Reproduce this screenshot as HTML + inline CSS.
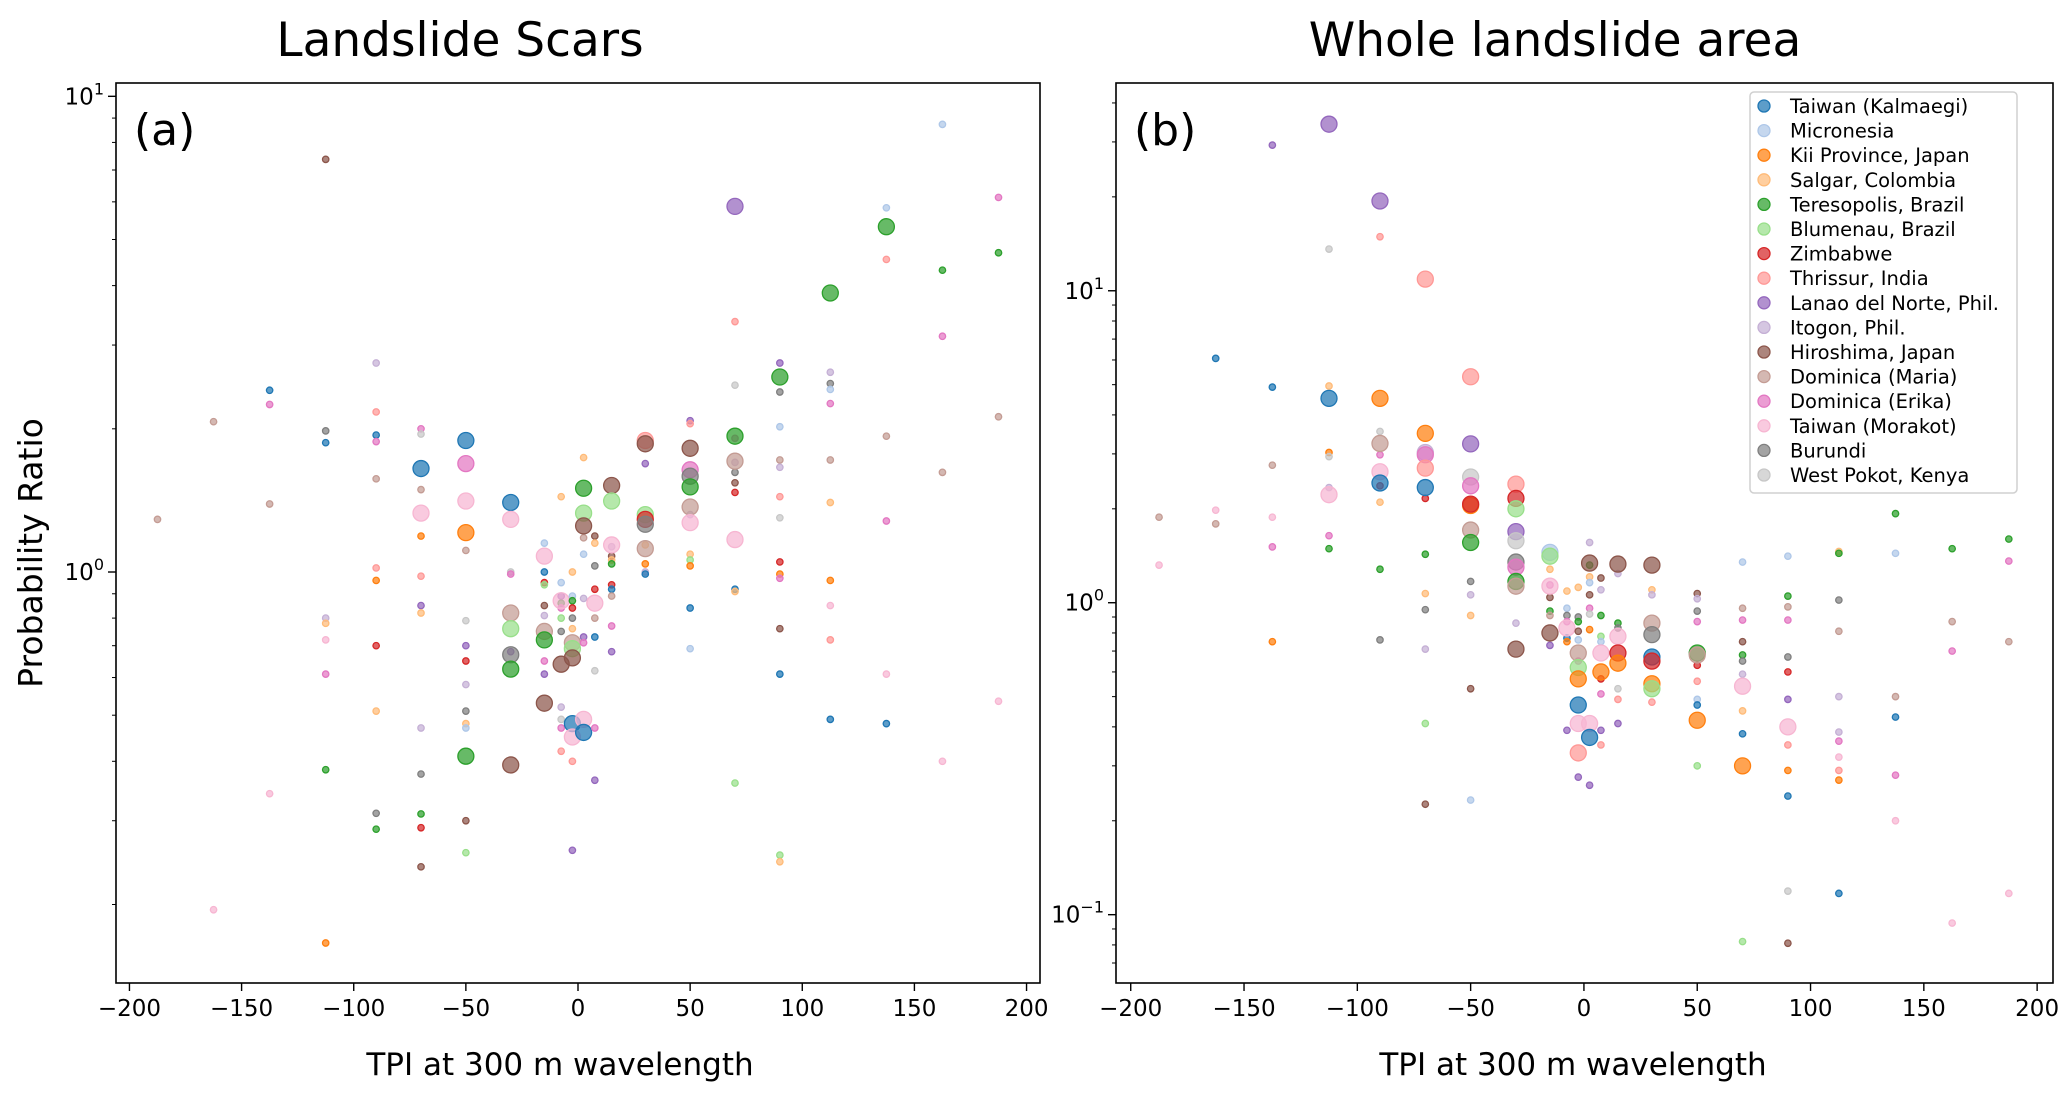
<!DOCTYPE html>
<html><head><meta charset="utf-8">
<style>
html,body{margin:0;padding:0;background:#fff;}
svg{display:block;font-family:"DejaVu Sans","Liberation Sans",sans-serif;}
</style></head>
<body>
<svg id="fig" width="2067" height="1101" viewBox="0 0 2067 1101" xmlns="http://www.w3.org/2000/svg">
<rect width="2067" height="1101" fill="#fff"/>
<text x="460" y="56" font-size="47" text-anchor="middle">Landslide Scars</text>
<text x="1555" y="56" font-size="47" text-anchor="middle">Whole landslide area</text>
<text transform="translate(42,553) rotate(-90)" font-size="33" text-anchor="middle">Probability Ratio</text>
<text x="560" y="1075" font-size="31" text-anchor="middle">TPI at 300 m wavelength</text>
<text x="1573" y="1075" font-size="31" text-anchor="middle">TPI at 300 m wavelength</text>
<g id="ga"></g>
<g id="gb"></g>
<g id="leg"></g>
</svg>
<script>
const seriesNames = ["Taiwan (Kalmaegi)","Micronesia","Kii Province, Japan","Salgar, Colombia","Teresopolis, Brazil","Blumenau, Brazil","Zimbabwe","Thrissur, India","Lanao del Norte, Phil.","Itogon, Phil.","Hiroshima, Japan","Dominica (Maria)","Dominica (Erika)","Taiwan (Morakot)","Burundi","West Pokot, Kenya"];
const seriesColors = ["#1f77b4","#aec7e8","#ff7f0e","#ffbb78","#2ca02c","#98df8a","#d62728","#ff9896","#9467bd","#c5b0d5","#8c564b","#c49c94","#e377c2","#f7b6d2","#7f7f7f","#c7c7c7"];
const xTicks = [-200,-150,-100,-50,0,50,100,150,200];
const yTicksA = [0,1];
const yTicksB = [-1,0,1];
// [TPI, probability ratio, series index, large marker]
const pointsA = [
[-187.5,1.29,11,0],
[-162.5,2.07,11,0],[-162.5,0.195,13,0],
[-137.5,2.41,0,0],[-137.5,2.25,12,0],[-137.5,1.39,11,0],[-137.5,0.342,13,0],
[-112.5,7.37,10,0],[-112.5,1.98,14,0],[-112.5,1.87,0,0],[-112.5,0.80,9,0],[-112.5,0.78,3,0],[-112.5,0.72,13,0],[-112.5,0.61,12,0],[-112.5,0.384,4,0],[-112.5,0.166,2,0],
[-90,2.75,9,0],[-90,2.17,7,0],[-90,1.94,0,0],[-90,1.88,12,0],[-90,1.57,11,0],[-90,1.02,7,0],[-90,0.96,2,0],[-90,0.70,6,0],[-90,0.51,3,0],[-90,0.311,14,0],[-90,0.288,4,0],
[-70,2.0,12,0],[-70,1.95,15,0],[-70,1.49,11,0],[-70,1.19,2,0],[-70,0.98,7,0],[-70,0.85,8,0],[-70,0.82,3,0],[-70,0.47,9,0],[-70,0.376,14,0],[-70,0.31,4,0],[-70,0.29,6,0],[-70,0.24,10,0],[-70,1.65,0,1],[-70,1.33,13,1],
[-50,1.11,11,0],[-50,0.79,15,0],[-50,0.70,8,0],[-50,0.65,6,0],[-50,0.58,9,0],[-50,0.51,14,0],[-50,0.48,3,0],[-50,0.47,1,0],[-50,0.30,10,0],[-50,0.257,5,0],[-50,1.89,0,1],[-50,1.69,12,1],[-50,1.41,13,1],[-50,1.21,2,1],[-50,0.41,4,1],
[-30,1.0,15,0],[-30,0.99,12,0],[-30,0.68,8,0],[-30,1.40,0,1],[-30,1.29,13,1],[-30,0.82,11,1],[-30,0.76,5,1],[-30,0.67,14,1],[-30,0.625,4,1],[-30,0.393,10,1],
[-15,1.15,1,0],[-15,1.0,0,0],[-15,0.95,6,0],[-15,0.94,5,0],[-15,0.85,10,0],[-15,0.81,9,0],[-15,0.65,12,0],[-15,0.61,8,0],[-15,1.08,13,1],[-15,0.75,11,1],[-15,0.72,4,1],[-15,0.53,10,1],
[-7.5,1.44,3,0],[-7.5,0.95,1,0],[-7.5,0.89,8,0],[-7.5,0.86,4,0],[-7.5,0.84,12,0],[-7.5,0.80,5,0],[-7.5,0.75,14,0],[-7.5,0.52,9,0],[-7.5,0.49,15,0],[-7.5,0.47,12,0],[-7.5,0.42,7,0],[-7.5,0.87,13,1],[-7.5,0.64,10,1],
[-2.5,1.0,3,0],[-2.5,0.89,1,0],[-2.5,0.87,4,0],[-2.5,0.84,6,0],[-2.5,0.80,14,0],[-2.5,0.76,3,0],[-2.5,0.40,7,0],[-2.5,0.26,8,0],[-2.5,0.71,11,1],[-2.5,0.69,5,1],[-2.5,0.66,10,1],[-2.5,0.48,0,1],[-2.5,0.45,13,1],
[2.5,1.74,3,0],[2.5,1.18,11,0],[2.5,1.09,1,0],[2.5,0.88,9,0],[2.5,0.73,8,0],[2.5,0.71,12,0],[2.5,1.50,4,1],[2.5,1.33,5,1],[2.5,1.25,10,1],[2.5,0.49,13,1],[2.5,0.46,0,1],
[7.5,1.19,10,0],[7.5,1.15,3,0],[7.5,1.03,14,0],[7.5,0.92,6,0],[7.5,0.80,11,0],[7.5,0.73,0,0],[7.5,0.62,15,0],[7.5,0.47,12,0],[7.5,0.365,8,0],[7.5,0.86,13,1],
[15,1.13,9,0],[15,1.08,10,0],[15,1.06,3,0],[15,1.04,4,0],[15,0.94,6,0],[15,0.92,0,0],[15,0.89,11,0],[15,0.77,12,0],[15,0.68,8,0],[15,1.52,10,1],[15,1.41,5,1],[15,1.14,13,1],
[30,1.69,8,0],[30,1.14,3,0],[30,1.04,2,0],[30,1.0,9,0],[30,0.99,0,0],[30,1.89,7,1],[30,1.86,10,1],[30,1.32,5,1],[30,1.29,6,1],[30,1.26,14,1],[30,1.12,11,1],
[50,2.08,8,0],[50,2.05,7,0],[50,1.32,9,0],[50,1.09,3,0],[50,1.06,5,0],[50,1.03,2,0],[50,0.84,0,0],[50,0.69,1,0],[50,1.82,10,1],[50,1.64,12,1],[50,1.59,14,1],[50,1.51,4,1],[50,1.37,11,1],[50,1.27,13,1],
[70,3.36,7,0],[70,2.47,15,0],[70,1.91,12,0],[70,1.70,9,0],[70,1.62,14,0],[70,1.54,10,0],[70,1.47,6,0],[70,0.92,0,0],[70,0.91,3,0],[70,0.36,5,0],[70,5.87,8,1],[70,1.93,4,1],[70,1.71,11,1],[70,1.17,13,1],
[90,2.75,8,0],[90,2.39,14,0],[90,2.02,1,0],[90,1.72,11,0],[90,1.66,9,0],[90,1.44,7,0],[90,1.30,15,0],[90,1.05,6,0],[90,0.99,2,0],[90,0.97,12,0],[90,0.76,10,0],[90,0.61,0,0],[90,0.254,5,0],[90,0.246,3,0],[90,2.57,4,1],
[112.5,2.63,9,0],[112.5,2.49,14,0],[112.5,2.42,1,0],[112.5,2.26,12,0],[112.5,1.72,11,0],[112.5,1.40,3,0],[112.5,0.96,2,0],[112.5,0.85,13,0],[112.5,0.72,7,0],[112.5,0.49,0,0],[112.5,3.86,4,1],
[137.5,5.83,1,0],[137.5,4.54,7,0],[137.5,1.93,11,0],[137.5,1.28,12,0],[137.5,0.61,13,0],[137.5,0.48,0,0],[137.5,5.32,4,1],
[162.5,8.73,1,0],[162.5,4.31,4,0],[162.5,3.13,12,0],[162.5,1.62,11,0],[162.5,0.40,13,0],
[187.5,6.13,12,0],[187.5,4.69,4,0],[187.5,2.12,11,0],[187.5,0.535,13,0]
];
const pointsB = [
[-187.5,1.88,11,0],[-187.5,1.32,13,0],
[-162.5,6.07,0,0],[-162.5,1.98,13,0],[-162.5,1.79,11,0],
[-137.5,29.3,8,0],[-137.5,4.91,0,0],[-137.5,2.76,11,0],[-137.5,1.88,13,0],[-137.5,1.51,12,0],[-137.5,0.75,2,0],
[-112.5,13.6,15,0],[-112.5,4.95,3,0],[-112.5,3.03,2,0],[-112.5,2.94,15,0],[-112.5,2.34,9,0],[-112.5,1.64,12,0],[-112.5,1.49,4,0],[-112.5,34.2,8,1],[-112.5,4.52,0,1],[-112.5,2.22,13,1],
[-90,14.9,7,0],[-90,3.54,15,0],[-90,2.98,12,0],[-90,2.37,6,0],[-90,2.10,3,0],[-90,1.28,4,0],[-90,0.76,14,0],[-90,19.4,8,1],[-90,4.52,2,1],[-90,3.24,11,1],[-90,2.63,13,1],[-90,2.42,0,1],
[-70,2.16,6,0],[-70,1.43,4,0],[-70,1.07,3,0],[-70,0.95,14,0],[-70,0.71,9,0],[-70,0.41,5,0],[-70,0.226,10,0],[-70,10.9,7,1],[-70,3.49,2,1],[-70,3.03,9,1],[-70,2.98,12,1],[-70,2.70,7,1],[-70,2.34,0,1],
[-50,1.17,14,0],[-50,1.06,9,0],[-50,0.91,3,0],[-50,0.53,10,0],[-50,0.233,1,0],[-50,5.3,7,1],[-50,3.23,8,1],[-50,2.53,15,1],[-50,2.37,12,1],[-50,2.05,2,1],[-50,2.07,6,1],[-50,1.71,11,1],[-50,1.56,4,1],
[-30,0.86,9,0],[-30,2.40,7,1],[-30,2.16,6,1],[-30,2.0,5,1],[-30,1.69,8,1],[-30,1.58,15,1],[-30,1.35,14,1],[-30,1.30,12,1],[-30,1.17,4,1],[-30,1.13,11,1],[-30,0.71,10,1],
[-15,1.28,3,0],[-15,1.14,12,0],[-15,1.04,10,0],[-15,0.94,4,0],[-15,0.91,11,0],[-15,0.73,8,0],[-15,1.45,1,1],[-15,1.41,5,1],[-15,1.13,13,1],[-15,0.80,10,1],
[-7.5,1.09,3,0],[-7.5,0.96,1,0],[-7.5,0.91,14,0],[-7.5,0.87,12,0],[-7.5,0.77,0,0],[-7.5,0.75,2,0],[-7.5,0.39,8,0],[-7.5,0.83,13,1],
[-2.5,1.12,3,0],[-2.5,0.90,14,0],[-2.5,0.87,4,0],[-2.5,0.81,10,0],[-2.5,0.76,1,0],[-2.5,0.65,12,0],[-2.5,0.276,8,0],[-2.5,0.69,11,1],[-2.5,0.62,5,1],[-2.5,0.57,2,1],[-2.5,0.47,0,1],[-2.5,0.41,13,1],[-2.5,0.33,7,1],
[2.5,1.56,9,0],[2.5,1.32,4,0],[2.5,1.21,3,0],[2.5,1.16,1,0],[2.5,1.06,10,0],[2.5,0.96,12,0],[2.5,0.92,15,0],[2.5,0.82,2,0],[2.5,0.26,8,0],[2.5,1.34,10,1],[2.5,0.41,13,1],[2.5,0.37,0,1],
[7.5,1.20,10,0],[7.5,1.10,9,0],[7.5,0.91,4,0],[7.5,0.78,5,0],[7.5,0.75,1,0],[7.5,0.57,6,0],[7.5,0.51,12,0],[7.5,0.39,8,0],[7.5,0.35,7,0],[7.5,0.69,13,1],[7.5,0.60,2,1],
[15,1.24,9,0],[15,0.86,4,0],[15,0.83,14,0],[15,0.53,15,0],[15,0.49,7,0],[15,0.41,8,0],[15,1.33,10,1],[15,0.78,13,1],[15,0.69,6,1],[15,0.64,2,1],
[30,1.10,3,0],[30,1.06,9,0],[30,0.48,7,0],[30,1.32,10,1],[30,0.86,11,1],[30,0.79,14,1],[30,0.67,0,1],[30,0.65,6,1],[30,0.55,2,1],[30,0.53,5,1],
[50,1.07,10,0],[50,1.03,9,0],[50,0.94,14,0],[50,0.87,12,0],[50,0.63,6,0],[50,0.56,7,0],[50,0.49,1,0],[50,0.47,0,0],[50,0.30,5,0],[50,0.69,4,1],[50,0.68,11,1],[50,0.42,2,1],
[70,1.35,1,0],[70,0.96,11,0],[70,0.88,12,0],[70,0.75,10,0],[70,0.68,4,0],[70,0.65,14,0],[70,0.59,9,0],[70,0.45,3,0],[70,0.38,0,0],[70,0.082,5,0],[70,0.54,13,1],[70,0.30,2,1],
[90,1.41,1,0],[90,1.05,4,0],[90,0.97,11,0],[90,0.88,12,0],[90,0.67,14,0],[90,0.60,6,0],[90,0.49,8,0],[90,0.35,7,0],[90,0.29,2,0],[90,0.24,0,0],[90,0.119,15,0],[90,0.081,10,0],[90,0.40,13,1],
[112.5,1.46,3,0],[112.5,1.44,4,0],[112.5,1.02,14,0],[112.5,0.81,11,0],[112.5,0.50,9,0],[112.5,0.385,9,0],[112.5,0.36,12,0],[112.5,0.32,13,0],[112.5,0.29,7,0],[112.5,0.27,2,0],[112.5,0.117,0,0],
[137.5,1.93,4,0],[137.5,1.44,1,0],[137.5,0.50,11,0],[137.5,0.43,0,0],[137.5,0.28,12,0],[137.5,0.20,13,0],
[162.5,1.49,4,0],[162.5,0.87,11,0],[162.5,0.70,12,0],[162.5,0.094,13,0],
[187.5,1.60,4,0],[187.5,1.36,12,0],[187.5,0.75,11,0],[187.5,0.117,13,0]
];
const tpiA = pointsA.map(p=>p[0]), prA = pointsA.map(p=>p[1]), serA = pointsA.map(p=>p[2]), bigA = pointsA.map(p=>p[3]);
const tpiB = pointsB.map(p=>p[0]), prB = pointsB.map(p=>p[1]), serB = pointsB.map(p=>p[2]), bigB = pointsB.map(p=>p[3]);

const NS="http://www.w3.org/2000/svg";
function mk(tag, attrs, parent){const e=document.createElementNS(NS,tag);for(const k in attrs)e.setAttribute(k,attrs[k]);parent.appendChild(e);return e;}

function panel(g, box, xr, lr, yt, tpi, pr, ser, big, label, key){
  const xs=v=>box.l+(v-xr[0])/(xr[1]-xr[0])*(box.r-box.l);
  const ys=v=>box.b-(Math.log10(v)-lr[0])/(lr[1]-lr[0])*(box.b-box.t);
  for(let i=0;i<tpi.length;i++){
    const c=seriesColors[ser[i]];
    const e=mk('circle',{cx:xs(tpi[i]),cy:ys(pr[i]),r:big[i]?8:3.2,fill:c,'fill-opacity':0.72,stroke:c,'stroke-width':1.3},g);
    
    
  }
  const fr=mk('rect',{x:box.l,y:box.t,width:box.r-box.l,height:box.b-box.t,fill:'none',stroke:'#000','stroke-width':1.6},g);
  
  
  xTicks.forEach(v=>{
    const x=xs(v);
    mk('line',{x1:x,x2:x,y1:box.b,y2:box.b+8,stroke:'#000','stroke-width':1.4},g);
    const t=mk('text',{x:x,y:box.b+33,'font-size':23,'text-anchor':'middle'},g);
    t.textContent=(v<0?'\u2212'+(-v):''+v);
    
    
  });
  for(let d=Math.floor(lr[0]);d<=Math.ceil(lr[1]);d++){
    for(let m=2;m<10;m++){
      const lv=d+Math.log10(m);
      if(lv<=lr[0]||lv>=lr[1])continue;
      const y=ys(Math.pow(10,lv));
      mk('line',{x1:box.l,x2:box.l-4,y1:y,y2:y,stroke:'#000','stroke-width':1},g);
    }
  }
  yt.forEach(d=>{
    const y=ys(Math.pow(10,d));
    mk('line',{x1:box.l,x2:box.l-8,y1:y,y2:y,stroke:'#000','stroke-width':1.4},g);
    const t=mk('text',{x:box.l-12,y:y+8,'font-size':23,'text-anchor':'end'},g);
    
    
    const a=mk('tspan',{},t);a.textContent='10';
    const b=mk('tspan',{dy:-10,'font-size':16},t);b.textContent=(d<0?'\u2212'+(-d):''+d);
  });
  const pl=mk('text',{x:box.l+18,y:box.t+62,'font-size':44},g);
  pl.textContent=label;
  
  
}
panel(document.getElementById('ga'),{l:116,r:1040,t:83,b:983},[-206,206],[-0.864,1.028],yTicksA,tpiA,prA,serA,bigA,'(a)','a');
panel(document.getElementById('gb'),{l:1116,r:2053,t:83,b:983},[-206.5,207],[-1.219,1.666],yTicksB,tpiB,prB,serB,bigB,'(b)','b');

const leg=document.getElementById('leg');
mk('rect',{x:1750,y:92,width:267,height:401,rx:4,fill:'#fff','fill-opacity':0.85,stroke:'#d0d0d0','stroke-width':1.5},leg);
seriesNames.forEach((n,i)=>{
  const y=106+i*24.6;
  const c=seriesColors[i];
  const m=mk('circle',{cx:1764,cy:y,r:6,fill:c,'fill-opacity':0.72,stroke:c,'stroke-width':1.3},leg);
  
  
  const t=mk('text',{x:1790,y:y+7,'font-size':19.5},leg);
  t.textContent=n;
  
  
});
</script>
</body></html>
